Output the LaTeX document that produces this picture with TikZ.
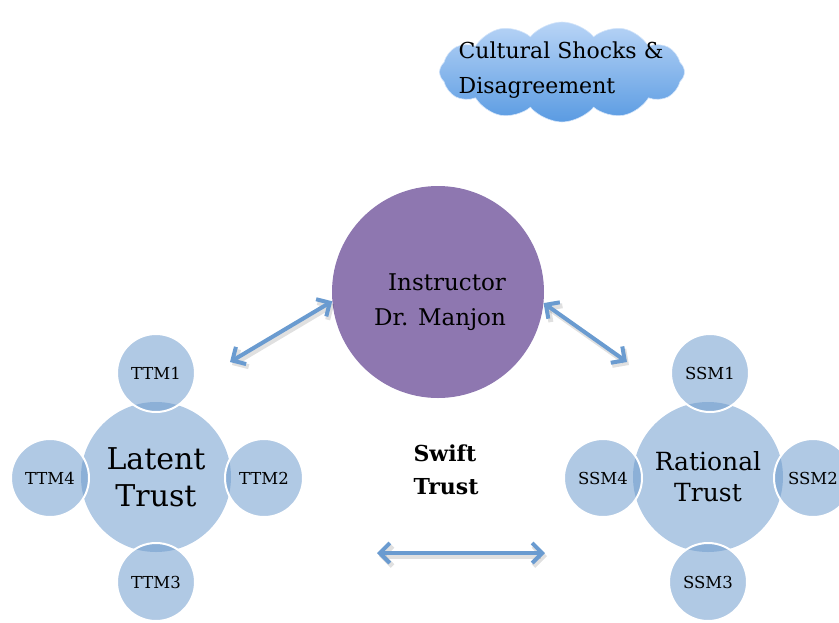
\documentclass[tikz,border=0pt]{standalone}
\usepackage{fontspec}
\setmainfont{DejaVu Serif}
\usetikzlibrary{shapes.symbols,arrows.meta,shadows}
\definecolor{bigblue}{RGB}{176,201,228}
\definecolor{smallblue}{RGB}{111,156,205}
\definecolor{purp}{RGB}{142,119,176}
\definecolor{arrowblue}{RGB}{106,155,208}
\definecolor{cloudtop}{RGB}{184,212,246}
\definecolor{cloudbot}{RGB}{90,155,226}
\tikzset{
  bigc/.style={circle,fill=bigblue,minimum size=150pt,inner sep=0pt,align=center,font=\fontsize{30}{37}\selectfont},
  smallc/.style={circle,fill=smallblue,fill opacity=0.55,text opacity=1,draw=white,line width=2pt,minimum size=78pt,inner sep=0pt,font=\fontsize{16.5}{18}\selectfont},
  dblarrow/.style={arrowblue,line width=4pt,{Straight Barb[length=10pt,width=20pt,line width=4pt]}-{Straight Barb[length=10pt,width=20pt,line width=4pt]}},
  arrshadow/.style={black,opacity=0.12,line width=5pt,{Straight Barb[length=10pt,width=20pt,line width=5pt]}-{Straight Barb[length=10pt,width=20pt,line width=5pt]}},
}
\begin{document}
\begin{tikzpicture}[x=1pt,y=-1pt]
\useasboundingbox (0,0) rectangle (839,622);
% cloud
\node[cloud,cloud puffs=12,cloud puff arc=100,aspect=2.5,minimum width=245pt,minimum height=100pt,
  top color=cloudtop,bottom color=cloudbot,draw=cloudtop!60!white,line width=0.6pt,
  inner sep=0pt] (cloud) at (562,72) {};
\node[align=left,font=\fontsize{22}{35}\selectfont,inner sep=0pt] (cloudtxt) at (561,70)
  {Cultural Shocks \&\\Disagreement};
% instructor
\node[circle,fill=purp,minimum size=212pt,inner sep=0pt] (instr) at (438,292) {};
\node[align=center,font=\fontsize{23}{35}\selectfont,inner sep=0pt] (instrtxt) at (440,302)
  {\hspace*{14pt}Instructor\\Dr. Manjon};
% left cluster
\node[bigc] (lt) at (156,477) {Latent\\Trust};
\node[smallc] (ttm1) at (156,373) {TTM1};
\node[smallc] (ttm2) at (264,478) {TTM2};
\node[smallc] (ttm3) at (156,582) {TTM3};
\node[smallc] (ttm4) at (50,478) {TTM4};
% right cluster
\node[bigc,font=\fontsize{25}{31}\selectfont] (rt) at (708,477) {Rational\\Trust};
\node[smallc] (ssm1) at (710,373) {SSM1};
\node[smallc] (ssm2) at (813,478) {SSM2};
\node[smallc] (ssm3) at (708,582) {SSM3};
\node[smallc] (ssm4) at (603,478) {SSM4};
% swift trust
\node[align=left,font=\bfseries\fontsize{22}{33}\selectfont] (swift) at (446,470) {Swift\\Trust};
% arrows
\coordinate (la) at (230,362);
\coordinate (ra) at (627,362);
\coordinate (bl) at (377,553);
\coordinate (br) at (545,553);
\begin{scope}[transform canvas={shift={(2pt,-3pt)}}]
\draw[arrshadow] (la) -- (instr.185);
\draw[arrshadow] (instr.354) -- (ra);
\draw[arrshadow] (bl) -- (br);
\end{scope}
\draw[dblarrow] (la) -- (instr.185);
\draw[dblarrow] (instr.354) -- (ra);
\draw[dblarrow] (bl) -- (br);
\end{tikzpicture}
\end{document}
